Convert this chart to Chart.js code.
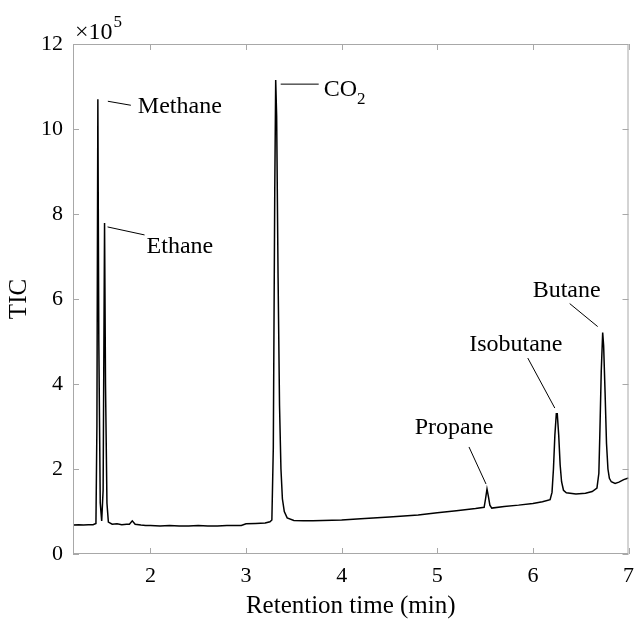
<!DOCTYPE html>
<html>
<head>
<meta charset="utf-8">
<script src="https://cdn.jsdelivr.net/npm/chart.js@4/dist/chart.umd.min.js"></script>
<style>
  html, body { margin: 0; padding: 0; background: #fff; }
  #wrap { width: 643px; height: 621px; }
</style>
</head>
<body>
<div id="wrap"><canvas id="myChart" width="643" height="621"></canvas></div>
<script>
// retention time (min) and TIC (x 10^5)
const times = [1.19, 1.25, 1.30, 1.35, 1.40, 1.43, 1.44, 1.45, 1.46, 1.475, 1.49, 1.505, 1.52, 1.53, 1.545, 1.56,
  1.60, 1.65, 1.70, 1.75, 1.78, 1.81, 1.84, 1.90, 1.95, 2.0, 2.1, 2.2, 2.3, 2.4, 2.5, 2.6, 2.7, 2.8, 2.95, 3.0, 3.1, 3.2, 3.25,
  3.27, 3.285, 3.30, 3.31, 3.32, 3.335, 3.35, 3.365, 3.38, 3.40, 3.43, 3.5, 3.6, 3.7, 3.8, 4.0, 4.2, 4.5, 4.8, 5.0, 5.2, 5.4,
  5.49, 5.505, 5.52, 5.535, 5.55, 5.57, 5.7, 5.85, 6.0, 6.1, 6.18,
  6.20, 6.215, 6.23, 6.245, 6.255, 6.27, 6.285, 6.30, 6.32, 6.35, 6.45, 6.55, 6.62, 6.67,
  6.69, 6.70, 6.715, 6.73, 6.74, 6.755, 6.77, 6.785, 6.80, 6.82, 6.86, 6.90, 6.95, 7.0];
const tic = [0.68, 0.69, 0.68, 0.69, 0.69, 0.72, 3.0, 10.7, 5.0, 1.2, 0.78, 1.5, 7.79, 4.0, 1.2, 0.75,
  0.70, 0.71, 0.69, 0.70, 0.70, 0.78, 0.70, 0.68, 0.67, 0.67, 0.66, 0.67, 0.66, 0.66, 0.67, 0.66, 0.66, 0.67, 0.67, 0.71, 0.72, 0.73, 0.76,
  0.80, 2.5, 8.5, 11.15, 10.3, 6.5, 3.5, 2.0, 1.3, 1.0, 0.85, 0.79, 0.78, 0.78, 0.79, 0.80, 0.83, 0.87, 0.92, 0.97, 1.02, 1.07,
  1.10, 1.30, 1.53, 1.35, 1.15, 1.08, 1.12, 1.15, 1.19, 1.23, 1.28,
  1.45, 2.0, 2.8, 3.3, 3.3, 2.8, 2.1, 1.7, 1.5, 1.44, 1.41, 1.43, 1.47, 1.55,
  1.9, 2.8, 4.3, 5.21, 4.9, 3.8, 2.6, 2.0, 1.78, 1.70, 1.66, 1.69, 1.75, 1.79];

const xTicks = [2, 3, 4, 5, 6, 7];
const yTicks = [0, 2, 4, 6, 8, 10, 12];

// peak labels: compound name and the peak it points at
const peakNames = ['Methane', 'Ethane', 'CO2', 'Propane', 'Isobutane', 'Butane'];
const peakX = [1.45, 1.52, 3.31, 5.52, 6.25, 6.73];
const peakY = [10.7, 7.79, 11.15, 1.53, 3.34, 5.21];

// leader line start/end and text anchor, pixel offsets from the peak
const labelStyle = [
  { l0: [10, 2], l1: [33, 6], t: [40, 14], align: 'left' },
  { l0: [3, 4], l1: [40, 12], t: [42, 30], align: 'left' },
  { l0: [5, 4], l1: [43, 4], t: [48, 16], align: 'left' },
  { l0: [-1, -5], l1: [-18, -42], t: [-33, -55], align: 'center' },
  { l0: [-2, -4], l1: [-29, -54], t: [-41, -61], align: 'center' },
  { l0: [-5, -6], l1: [-33, -29], t: [-36, -36], align: 'center' }
];

const serif = "'Liberation Serif', 'Times New Roman', serif";

const frame = {
  id: 'frame',
  afterDatasetsDraw(chart) {
    const { ctx, chartArea: a, scales: { x, y } } = chart;
    ctx.save();
    // box + inward ticks
    ctx.strokeStyle = '#a8a8a8';
    ctx.lineWidth = 1;
    ctx.strokeRect(a.left + 0.5, a.top + 0.5, a.right - a.left - 1, a.bottom - a.top - 1);
    ctx.beginPath();
    xTicks.forEach(v => {
      const px = Math.round(x.getPixelForValue(v)) + 0.5;
      ctx.moveTo(px, a.bottom); ctx.lineTo(px, a.bottom - 6);
      ctx.moveTo(px, a.top); ctx.lineTo(px, a.top + 6);
    });
    yTicks.forEach(v => {
      const py = Math.round(y.getPixelForValue(v)) + 0.5;
      ctx.moveTo(a.left, py); ctx.lineTo(a.left + 6, py);
      ctx.moveTo(a.right, py); ctx.lineTo(a.right - 6, py);
    });
    ctx.stroke();

    // exponent
    ctx.fillStyle = '#000';
    ctx.textBaseline = 'alphabetic';
    ctx.textAlign = 'left';
    ctx.font = '24px ' + serif;
    ctx.fillText('\u00d710', a.left + 2, a.top - 5);
    const w = ctx.measureText('\u00d710').width;
    ctx.font = '17px ' + serif;
    ctx.fillText('5', a.left + 3 + w, a.top - 17);

    // peak labels
    ctx.strokeStyle = '#000';
    ctx.lineWidth = 1;
    peakNames.forEach((name, i) => {
      const px = x.getPixelForValue(peakX[i]);
      const py = y.getPixelForValue(peakY[i]);
      const s = labelStyle[i];
      ctx.beginPath();
      ctx.moveTo(px + s.l0[0], py + s.l0[1]);
      ctx.lineTo(px + s.l1[0], py + s.l1[1]);
      ctx.stroke();
      ctx.textAlign = s.align;
      ctx.font = '24px ' + serif;
      if (name === 'CO2') {
        ctx.fillText('CO', px + s.t[0], py + s.t[1]);
        const cw = ctx.measureText('CO').width;
        ctx.font = '17px ' + serif;
        ctx.fillText('2', px + s.t[0] + cw, py + s.t[1] + 8);
      } else {
        ctx.fillText(name, px + s.t[0], py + s.t[1]);
      }
    });
    ctx.restore();
  }
};

const points = times.map((t, i) => ({ x: t, y: tic[i] }));

const chromChart = new Chart(document.getElementById('myChart').getContext('2d'), {
  type: 'line',
  data: {
    datasets: [{
      label: 'TIC',
      data: points,
      borderColor: '#000',
      borderWidth: 1.5,
      pointRadius: 0,
      tension: 0,
      fill: false
    }]
  },
  options: {
    responsive: false,
    animation: false,
    layout: { padding: { top: 44, right: 5, left: 0, bottom: 0 } },
    plugins: { legend: { display: false }, tooltip: { enabled: false } },
    scales: {
      x: {
        type: 'linear',
        min: 1.19,
        max: 7,
        afterBuildTicks: s => { s.ticks = xTicks.map(v => ({ value: v })); },
        afterFit: s => { s.height = 67; },
        grid: { display: false, drawTicks: false },
        border: { display: false },
        ticks: { color: '#000', font: { family: serif, size: 22 }, padding: 9, maxRotation: 0 },
        title: { display: true, text: 'Retention time (min)', color: '#000', font: { family: serif, size: 25 }, padding: { top: 0, bottom: 0 } }
      },
      y: {
        min: 0,
        max: 12,
        afterBuildTicks: s => { s.ticks = yTicks.map(v => ({ value: v })); },
        afterFit: s => { s.width = 73; },
        grid: { display: false, drawTicks: false },
        border: { display: false },
        ticks: { color: '#000', font: { family: serif, size: 22 }, padding: 10 },
        title: { display: true, text: 'TIC', color: '#000', font: { family: serif, size: 25 }, padding: { top: 4, bottom: 0 } }
      }
    }
  },
  plugins: [frame]
});
</script>
</body>
</html>
